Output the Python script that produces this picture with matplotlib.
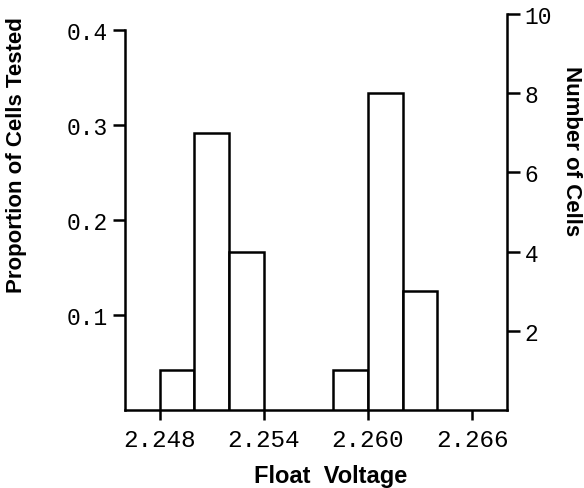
import matplotlib
matplotlib.use('Agg')
import matplotlib.pyplot as plt

# histogram of float voltages, 24 cells in total
bin_left = [2.248, 2.250, 2.252, 2.258, 2.260, 2.262]
bin_width = 0.002
counts = [1, 7, 4, 1, 8, 3]
n_cells = 24

x_ticks = [2.248, 2.254, 2.260, 2.266]
x_ticklabels = ['2.248', '2.254', '2.260', '2.266']
prop_ticks = [0.1, 0.2, 0.3, 0.4]
prop_ticklabels = ['0.1', '0.2', '0.3', '0.4']
count_ticks = [2, 4, 6, 8, 10]

mono = 'Liberation Mono'
sans = 'Liberation Sans'

fig = plt.figure(figsize=(5.84, 4.89), dpi=100)
ax = fig.add_axes([125 / 584, 78 / 489, 381.7 / 584, 396 / 489])
ax2 = ax.twinx()

# bars drawn on the count axis
ax2.bar(bin_left, counts, width=bin_width, align='edge',
        facecolor='white', edgecolor='black', linewidth=1.8)

ax.set_xlim(2.246, 2.268)
ax2.set_ylim(0, 10)
ax.set_ylim(0, 10 / n_cells)

for a in (ax, ax2):
    a.spines['top'].set_visible(False)
    a.patch.set_visible(False)
ax.spines['right'].set_visible(False)
ax2.spines['left'].set_visible(False)
ax.spines['left'].set_bounds(0, 0.4)
for s in ['left', 'bottom']:
    ax.spines[s].set_linewidth(1.8)
ax2.spines['right'].set_linewidth(1.8)
ax2.spines['bottom'].set_visible(False)

ax.set_xticks(x_ticks)
ax.set_xticklabels(x_ticklabels, fontfamily=mono, fontsize=17.5)
ax.set_yticks(prop_ticks)
ax.set_yticklabels(prop_ticklabels, fontfamily=mono, fontsize=16.5)
ax2.set_yticks(count_ticks)
ax2.set_yticklabels([str(c) for c in count_ticks], fontfamily=mono, fontsize=16.5)

ax.tick_params(axis='x', direction='out', length=7, width=1.8, pad=6)
ax.tick_params(axis='y', direction='out', length=9, width=1.8, pad=3)
ax2.tick_params(axis='y', direction='out', length=9, width=1.8, pad=4)

fig.text(17 / 584, 1 - 155 / 489, 'Proportion of Cells Tested', rotation=90,
         ha='center', va='center', fontfamily=sans, fontsize=16, fontweight='bold')
fig.text(571 / 584, 1 - 151 / 489, 'Number of Cells', rotation=270,
         ha='center', va='center', fontfamily=sans, fontsize=16, fontweight='bold')
fig.text(331 / 584, 1 - 477 / 489, 'Float  Voltage',
         ha='center', va='center', fontfamily=sans, fontsize=17, fontweight='bold')

fig.savefig('out.png', dpi=100)
